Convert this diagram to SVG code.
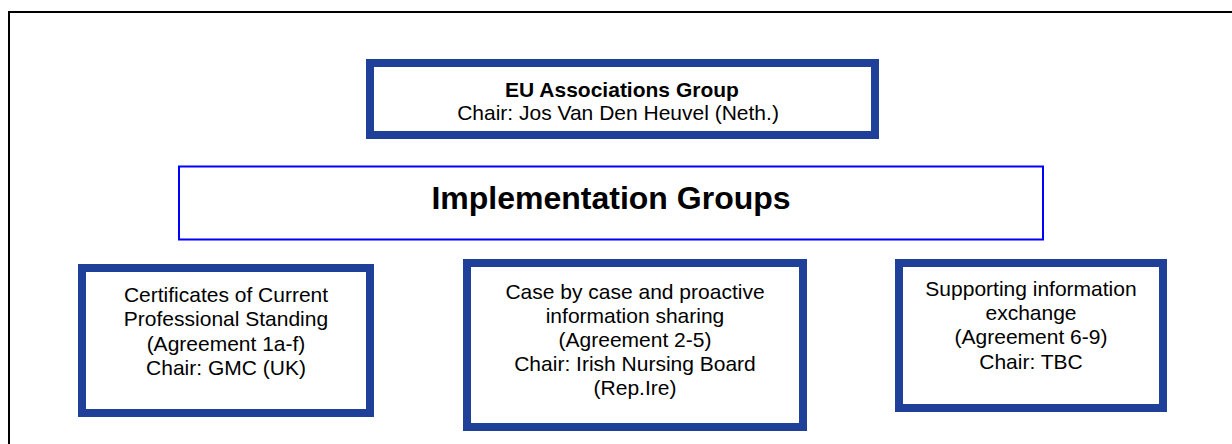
<svg xmlns="http://www.w3.org/2000/svg" width="1232" height="444" viewBox="0 0 1232 444">
  <style>
    .frame { fill: none; stroke: #000000; stroke-width: 2; }
    .heavy { fill: #ffffff; stroke: #1f4098; stroke-width: 8; }
    .thin { fill: #ffffff; stroke: #0000ff; stroke-width: 2; }
    text { font-family: "Liberation Sans", Arial, sans-serif; fill: #000000; text-anchor: middle; }
    .t21 { font-size: 21px; }
    .b21 { font-size: 21px; font-weight: bold; }
    .b32 { font-size: 32px; font-weight: bold; }
  </style>

  <rect width="1232" height="444" fill="#ffffff"/>

  <!-- page frame: open on the right and bottom -->
  <path class="frame" d="M9,444 V12 H1232"/>

  <g id="connectors"></g>

  <g id="eu-associations">
    <rect class="heavy" x="370" y="63" width="505" height="72"/>
    <text class="b21" x="622" y="97">EU Associations Group</text>
    <text class="t21" x="618" y="120">Chair: Jos Van Den Heuvel (Neth.)</text>
  </g>

  <g id="implementation-groups">
    <rect class="thin" x="179" y="166.5" width="864" height="73"/>
    <text class="b32" x="611" y="209">Implementation Groups</text>
  </g>

  <g id="certificates">
    <rect class="heavy" x="82" y="268" width="288" height="145"/>
    <text class="t21" x="226" y="302">Certificates of Current</text>
    <text class="t21" x="226" y="326">Professional Standing</text>
    <text class="t21" x="226" y="351">(Agreement 1a-f)</text>
    <text class="t21" x="226" y="375">Chair: GMC (UK)</text>
  </g>

  <g id="case-by-case">
    <rect class="heavy" x="467" y="263" width="336" height="164"/>
    <text class="t21" x="635" y="299">Case by case and proactive</text>
    <text class="t21" x="635" y="323">information sharing</text>
    <text class="t21" x="635" y="347">(Agreement 2-5)</text>
    <text class="t21" x="635" y="371">Chair: Irish Nursing Board</text>
    <text class="t21" x="635" y="395">(Rep.Ire)</text>
  </g>

  <g id="supporting-exchange">
    <rect class="heavy" x="899" y="263" width="264" height="145"/>
    <text class="t21" x="1031" y="296">Supporting information</text>
    <text class="t21" x="1031" y="320">exchange</text>
    <text class="t21" x="1031" y="344">(Agreement 6-9)</text>
    <text class="t21" x="1031" y="369">Chair: TBC</text>
  </g>
</svg>
